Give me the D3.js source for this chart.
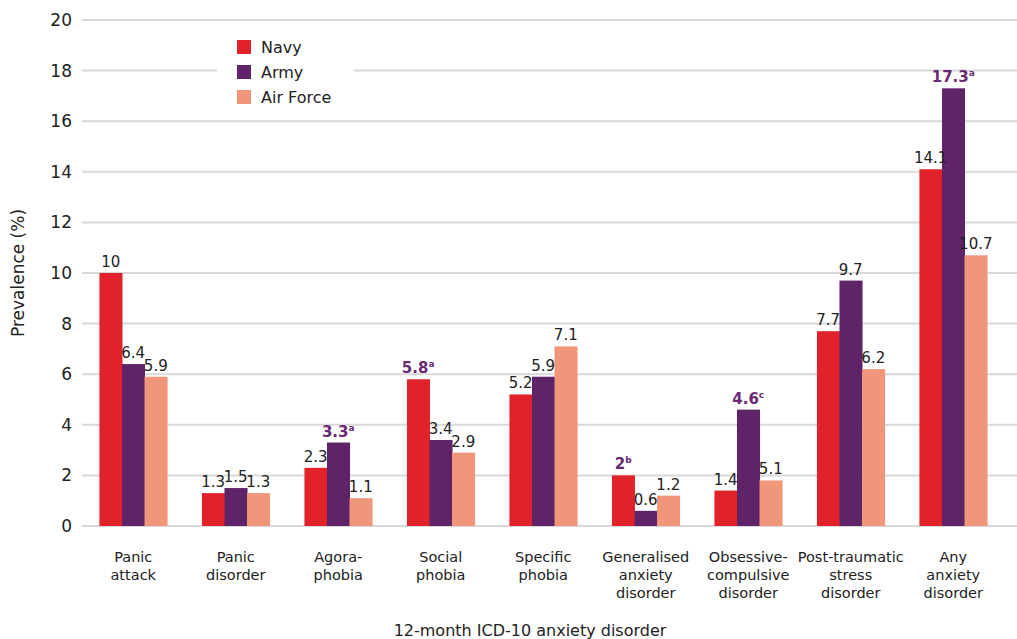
<!DOCTYPE html>
<html><head><meta charset="utf-8">
<script src="https://cdn.jsdelivr.net/npm/d3@7"></script>
<style>body{margin:0;background:#fff}svg{display:block}text{font-family:"DejaVu Sans",sans-serif}</style>
</head><body><svg id="c" width="1017" height="639"></svg>
<script>
const categories = [["Panic","attack"],["Panic","disorder"],["Agora-","phobia"],["Social","phobia"],["Specific","phobia"],["Generalised","anxiety","disorder"],["Obsessive-","compulsive","disorder"],["Post-traumatic","stress","disorder"],["Any","anxiety","disorder"]];
const seriesNames = ["Navy","Army","Air Force"];
const navy = [10,1.3,2.3,5.8,5.2,2,1.4,7.7,14.1];
const army = [6.4,1.5,3.3,3.4,5.9,0.6,4.6,9.7,17.3];
const airForce = [5.9,1.3,1.1,2.9,7.1,1.2,1.8,6.2,10.7];
const navyLabels = ["10","1.3","2.3","5.8","5.2","2","1.4","7.7","14.1"];
const armyLabels = ["6.4","1.5","3.3","3.4","5.9","0.6","4.6","9.7","17.3"];
const airForceLabels = ["5.9","1.3","1.1","2.9","7.1","1.2","5.1","6.2","10.7"];
const navySig = ["","","","a","","b","","",""];
const armySig = ["","","a","","","","c","","a"];
const airForceSig = ["","","","","","","","",""];
const yTicks = [0,2,4,6,8,10,12,14,16,18,20];
const colors = ["#e2222b","#5f2468","#f0977b"];

const svg = d3.select("#c");
const x0 = 82, x1 = 1004.5, yTop = 20, yBot = 526;
const x = d3.scaleBand().domain(d3.range(categories.length)).range([x0,x1]).paddingInner(0.34).paddingOuter(0.17);
const xs = d3.scaleBand().domain(d3.range(3)).range([0,x.bandwidth()]);
const y = d3.scaleLinear().domain([0,20]).range([yBot,yTop]);

svg.append("g").selectAll("line").data(yTicks).join("line")
  .attr("x1",82).attr("x2",1017).attr("y1",d=>y(d)).attr("y2",d=>y(d))
  .attr("stroke","#d9d9d9").attr("stroke-width",2);
const yAxis = svg.append("g").attr("transform","translate(82,0)")
  .call(d3.axisLeft(y).tickValues(yTicks).tickSize(0).tickPadding(10));
yAxis.select(".domain").remove();
yAxis.selectAll("text").attr("font-size",17).attr("fill","#222").attr("font-family","DejaVu Sans, sans-serif");

svg.append("text").attr("transform",`translate(24,${(yTop+yBot)/2}) rotate(-90)`)
  .attr("text-anchor","middle").attr("font-size",17).attr("fill","#222").text("Prevalence (%)");

const series = [navy,army,airForce];
const labels = [navyLabels,armyLabels,airForceLabels];
const sigs = [navySig,armySig,airForceSig];

series.forEach((vals,s)=>{
  svg.append("g").selectAll("rect").data(vals).join("rect")
    .attr("x",(d,i)=>x(i)+xs(s)).attr("width",xs.bandwidth()+0.5)
    .attr("y",d=>y(d)).attr("height",d=>yBot-y(d)).attr("fill",colors[s]);
});
series.forEach((vals,s)=>{
  const g = svg.append("g");
  vals.forEach((v,i)=>{
    const sig = sigs[s][i];
    const t = g.append("text").attr("x",x(i)+xs(s)+xs.bandwidth()/2).attr("y",y(v)-6)
      .attr("text-anchor","middle").attr("font-size",15)
      .attr("fill",sig?"#6a2a73":"#222").attr("font-weight",sig?"bold":"normal");
    t.append("tspan").text(labels[s][i]);
    if(sig) t.append("tspan").attr("font-size",9).attr("dy",-6).text(sig);
  });
});

categories.forEach((lines,i)=>{
  const t = svg.append("text").attr("text-anchor","middle").attr("font-size",14.5).attr("fill","#222")
    .attr("x",x(i)+x.bandwidth()/2).attr("y",562);
  lines.forEach((l,k)=>t.append("tspan").attr("x",x(i)+x.bandwidth()/2).attr("dy",k?18:0).text(l));
});
svg.append("text").attr("x",530).attr("y",636).attr("text-anchor","middle").attr("font-size",16).attr("fill","#222")
  .text("12-month ICD-10 anxiety disorder");

const lg = svg.append("g");
lg.append("rect").attr("x",217).attr("y",30).attr("width",137).attr("height",80).attr("fill","#fff");
seriesNames.forEach((n,k)=>{
  lg.append("rect").attr("x",237).attr("y",40+k*25).attr("width",14).attr("height",14).attr("fill",colors[k]);
  lg.append("text").attr("x",261).attr("y",53+k*25).attr("font-size",16).attr("fill","#222").text(n);
});
</script></body></html>
